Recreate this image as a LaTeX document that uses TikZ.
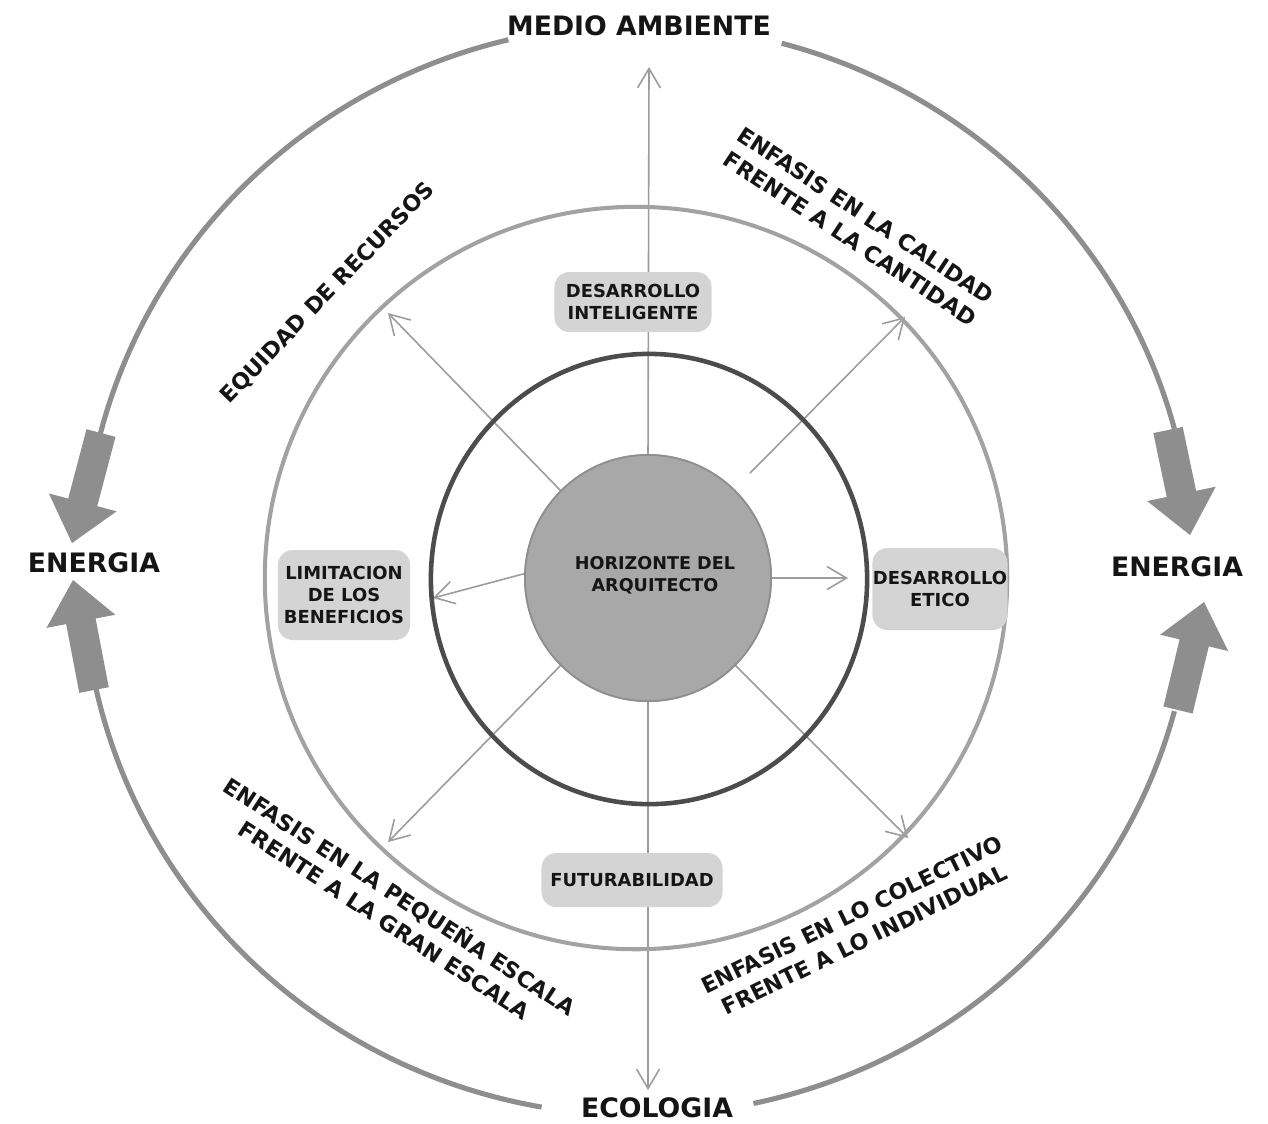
\documentclass[tikz,border=0pt]{standalone}
\usepackage{fontspec}
\setmainfont{DejaVu Sans}
\usetikzlibrary{arrows.meta,calc}
\definecolor{outergray}{HTML}{8E8E8E}
\definecolor{midgray}{HTML}{A2A2A2}
\definecolor{darkring}{HTML}{4C4C4C}
\definecolor{thingray}{HTML}{9C9C9C}
\definecolor{boxgray}{HTML}{D4D4D4}
\definecolor{coregray}{HTML}{A8A8A8}
\definecolor{txt}{HTML}{151515}
\newcommand\myblockarrow[2]{%
  \coordinate (hb) at ($(#2)!0.42cm!(#1)$);
  \fill[outergray] ($(#1)!0.15cm!90:(#2)$) -- ($(hb)!0.15cm!90:(#2)$) -- ($(hb)!0.35cm!90:(#2)$) -- (#2)
    -- ($(hb)!0.35cm!-90:(#2)$) -- ($(hb)!0.15cm!-90:(#2)$) -- ($(#1)!0.15cm!-90:(#2)$) -- cycle;}
\begin{document}
\begin{tikzpicture}[x=0.01cm,y=-0.01cm,
  bigtxt/.style={text=txt, font=\fontsize{7.6}{9}\selectfont\bfseries, inner sep=1pt},
  midtxt/.style={text=txt, font=\fontsize{6.3}{8}\selectfont\bfseries, align=center, inner sep=0pt},
  boxtxt/.style={text=txt, font=\fontsize{5.1}{6.2}\selectfont\bfseries, align=center},
  infobox/.style={boxtxt, fill=boxgray, rounded corners=0.15cm, inner sep=0pt},
  outerarc/.style={draw=outergray, line width=1.45pt},
  thinarrow/.style={draw=thingray, line width=0.45pt, -{Straight Barb[length=5.5pt,width=6.5pt]}}]
\useasboundingbox[fill=white] (0,0) rectangle (1268,1123);

% centre reference points
\coordinate (O) at (638,570);
\coordinate (Cm) at (636,578);
\coordinate (Cd) at (649,579);

% outer labels
\node[bigtxt] (medio) at (639,26) {MEDIO AMBIENTE};
\node[bigtxt] (enl) at (94,563) {ENERGIA};
\node[bigtxt] (enr) at (1177,567) {ENERGIA};
\node[bigtxt] (eco) at (657,1108) {ECOLOGIA};

% outer arcs
\coordinate (a1s) at ($(O)+(103.5:5.55cm and 5.45cm)$);
\coordinate (a1e) at ($(O)+(165.5:5.55cm and 5.45cm)$);
\coordinate (a2s) at ($(O)+(260:5.55cm and 5.45cm)$);
\coordinate (a2e) at ($(O)+(192.5:5.55cm and 5.45cm)$);
\coordinate (a3s) at ($(O)+(75:5.55cm and 5.45cm)$);
\coordinate (a3e) at ($(O)+(15:5.55cm and 5.45cm)$);
\coordinate (a4s) at ($(O)+(282:5.55cm and 5.45cm)$);
\coordinate (a4e) at ($(O)+(345:5.55cm and 5.45cm)$);
\draw[outerarc] (a1s) arc[start angle=103.5, end angle=165.5, x radius=5.55cm, y radius=5.45cm];
\draw[outerarc] (a2s) arc[start angle=260, end angle=192.5, x radius=5.55cm, y radius=5.45cm];
\draw[outerarc] (a3s) arc[start angle=75, end angle=15, x radius=5.55cm, y radius=5.45cm];
\draw[outerarc] (a4s) arc[start angle=282, end angle=345, x radius=5.55cm, y radius=5.45cm];

% block arrows
\coordinate (t1) at (101,433); \coordinate (p1) at (72,543);
\coordinate (t2) at (94,690);  \coordinate (p2) at (73,580);
\coordinate (t3) at (1168,430); \coordinate (p3) at (1190,535);
\coordinate (t4) at (1178,710); \coordinate (p4) at (1204,602);
\myblockarrow{t1}{p1}
\myblockarrow{t2}{p2}
\myblockarrow{t3}{p3}
\myblockarrow{t4}{p4}

% core node
\node[circle, fill=coregray, draw=coregray!85!black, line width=0.5pt, minimum size=2.46cm, inner sep=0pt] (hz) at (648,578) {};

% thin arrows
\coordinate (tipN) at (649,67);
\coordinate (tipS) at (648,1090);
\coordinate (tipNW) at (388,313);
\coordinate (tipNE) at (905,317);
\coordinate (startNE) at (750,473);
\coordinate (tipSW) at (388,842);
\coordinate (tipSE) at (908,838);
\coordinate (tipW) at (433,598);
\coordinate (tipE) at (848,578);
\draw[thinarrow] (hz.north) -- (tipN);
\draw[thinarrow] (hz.south) -- (tipS);
\draw[thinarrow] (hz.135) -- (tipNW);
\draw[thinarrow] (startNE) -- (tipNE);
\draw[thinarrow] (hz.225) -- (tipSW);
\draw[thinarrow] (hz.-45) -- (tipSE);
\draw[thinarrow] (hz.178) -- (tipW);
\draw[thinarrow] (hz.east) -- (tipE);

% rings
\draw[midgray, line width=1.15pt] (Cm) circle[radius=3.71cm];
\draw[darkring, line width=1.3pt] (Cd) ellipse[x radius=2.18cm, y radius=2.25cm];

% core again on top
\node[circle, fill=coregray, draw=coregray!85!black, line width=0.5pt, minimum size=2.46cm, inner sep=0pt] (hzc) at (648,578) {};
\node[boxtxt, font=\fontsize{5.0}{6.3}\selectfont\bfseries] (hztxt) at (655,575) {HORIZONTE DEL\\ARQUITECTO};

% boxes
\node[infobox, minimum width=1.57cm, minimum height=0.60cm] (dint) at (633,302) {DESARROLLO\\INTELIGENTE};
\node[infobox, minimum width=1.32cm, minimum height=0.90cm] (lim) at (344,595) {LIMITACION\\DE LOS\\BENEFICIOS};
\node[infobox, minimum width=1.35cm, minimum height=0.82cm] (etico) at (940,589) {DESARROLLO\\ETICO};
\node[infobox, minimum width=1.81cm, minimum height=0.54cm] (futu) at (632,880) {FUTURABILIDAD};

% rotated labels
\node[midtxt, rotate=46] (equi) at (328,293) {EQUIDAD DE RECURSOS};
\node[midtxt, rotate=-33.4] (cal) at (858,227) {ENFASIS EN LA CALIDAD\\FRENTE A LA CANTIDAD};
\node[midtxt, rotate=-33.2] (peq) at (393,907) {ENFASIS EN LA PEQUEÑA ESCALA\\FRENTE A LA GRAN ESCALA};
\node[midtxt, rotate=26] (col) at (858,927) {ENFASIS EN LO COLECTIVO\\FRENTE A LO INDIVIDUAL};
\end{tikzpicture}
\end{document}
